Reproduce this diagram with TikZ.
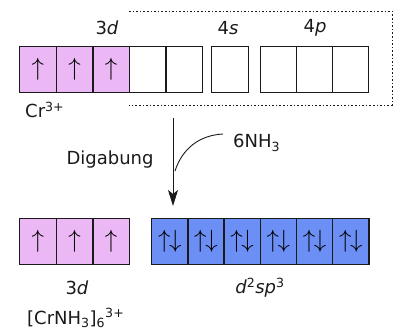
\documentclass[tikz,border=0pt]{standalone}
\usepackage{fontspec}
\setmainfont{DejaVu Sans}
\usetikzlibrary{arrows.meta,positioning}
\definecolor{pinkc}{HTML}{EBB8F5}
\definecolor{bluec}{HTML}{6B8FF5}
\definecolor{linec}{HTML}{1A1A1A}
\tikzset{
  orb/.style={draw=linec,line width=1.3pt,minimum width=36.6pt,minimum height=46pt,inner sep=0pt,anchor=north west,font=\fontsize{26}{26}\selectfont},
  orbp/.style={orb,fill=pinkc},
  orbb/.style={orb,fill=bluec,minimum width=36.2pt},
  lbl/.style={font=\fontsize{18}{20}\selectfont,text=linec,inner sep=0pt},
  ar/.style={-{Stealth[length=16pt,width=10pt,inset=4pt]},line width=1pt,linec}
}
\begin{document}
\begin{tikzpicture}[x=1pt,y=-1pt]
\useasboundingbox (0,0) rectangle (401,335);
% Cr3+ ion
\foreach \i in {0,1,2}{\node[orbp] (t\i) at ({19+36.6*\i},46) {$\uparrow$};}
\foreach \i in {3,4}{\node[orb] (t\i) at ({19+36.6*\i},46) {};}
\node[orb] (s0) at (211,46) {};
\foreach \i in {0,1,2}{\node[orb,minimum width=36pt] (p\i) at ({260+36*\i},46) {};}
\node[lbl] (l3d) at (107,28) {3\textit{d}};
\node[lbl] (l4s) at (228,28) {4\textit{s}};
\node[lbl] (l4p) at (315,28) {4\textit{p}};
\node[lbl,anchor=west] (cr) at (25,110) {Cr\textsuperscript{3+}};
\draw[linec,line width=0.9pt,dash pattern=on 1.6pt off 2pt] (129,11) -- (392,11) -- (392,105) -- (129,105);
% ligands
\coordinate (atop) at (173,118);
\coordinate (abot) at (173,206);
\coordinate (jn) at (175,171);
\draw[ar] (atop) -- (abot);
\node[lbl,anchor=west] (nh) at (233,143) {6NH\textsubscript{3}};
\node[lbl] (dg) at (110,160) {Digabung};
\draw[linec,line width=0.9pt] ([shift={(-10pt,9pt)}]nh.west) to[out=183,in=72] (jn);
% complex
\foreach \i in {0,1,2}{\node[orbp] (b\i) at ({19+36.6*\i},218) {$\uparrow$};}
\foreach \i in {0,...,5}{\node[orbb] (h\i) at ({151+36.2*\i},218) {$\uparrow\mkern-1mu\downarrow$};}
\node[lbl] (b3d) at (77,288) {3\textit{d}};
\node[lbl] (hyb) at (260,288) {\textit{d}\textsuperscript{2}\textit{sp}\textsuperscript{3}};
\node[lbl,anchor=west] (cx) at (27,318) {[CrNH\textsubscript{3}]\textsubscript{6}\textsuperscript{3+}};
\end{tikzpicture}
\end{document}
